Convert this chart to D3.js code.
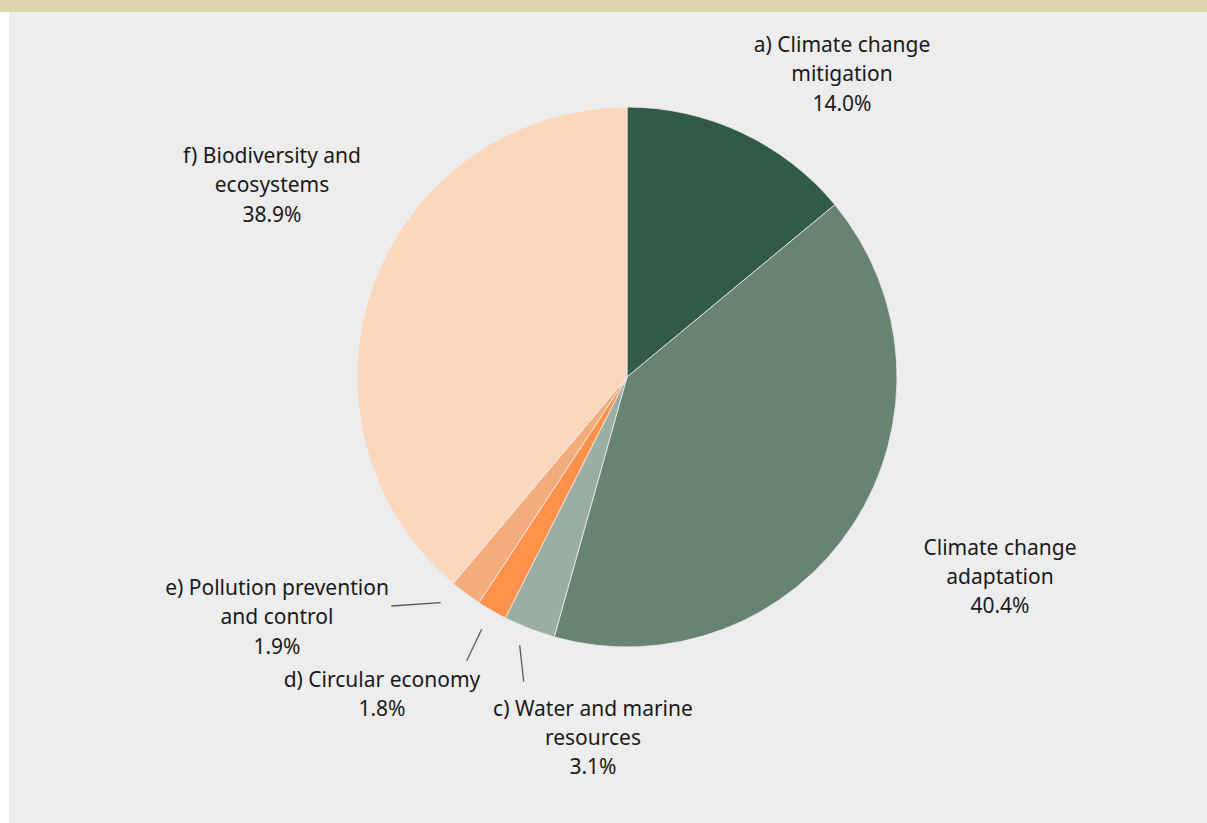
<!DOCTYPE html>
<html>
<head>
<meta charset="utf-8">
<script src="https://cdn.jsdelivr.net/npm/d3@7"></script>
<style>
  html, body { margin: 0; padding: 0; background: #ffffff; }
  svg { display: block; }
</style>
</head>
<body>
<svg id="chart" width="1207" height="823"></svg>
<script>
// Environmental objectives and their shares (%)
const categories = [
  "a) Climate change mitigation",
  "Climate change adaptation",
  "c) Water and marine resources",
  "d) Circular economy",
  "e) Pollution prevention and control",
  "f) Biodiversity and ecosystems"
];
const shares = [14.0, 40.4, 3.1, 1.8, 1.9, 38.9];
const valueLabels = ["14.0%", "40.4%", "3.1%", "1.8%", "1.9%", "38.9%"];
// Label text broken into lines
const labelLines = [
  ["a) Climate change", "mitigation"],
  ["Climate change", "adaptation"],
  ["c) Water and marine", "resources"],
  ["d) Circular economy"],
  ["e) Pollution prevention", "and control"],
  ["f) Biodiversity and", "ecosystems"]
];
const sliceColors = ["#315b47", "#678372", "#9aaea1", "#ff914b", "#f3ad7c", "#fbd7bd"];

// Label placement: centre x and first baseline y, plus optional leader line
const labelLayout = [
  { x: 842, y: 52 },
  { x: 1000, y: 554.5 },
  { x: 593, y: 715.5, leader: [[523.7, 681.7], [519.7, 645.3]] },
  { x: 382, y: 687, leader: [[466.7, 660.7], [481.7, 629.3]] },
  { x: 277, y: 595, leader: [[391.3, 606], [440.7, 602.7]] },
  { x: 272, y: 163 }
];

const W = 1207, H = 823;
const svg = d3.select("#chart");

// Header band and panel background
svg.append("rect").attr("x", 0).attr("y", 0).attr("width", W).attr("height", 12).attr("fill", "#dcd5ad");
svg.append("rect").attr("x", 9).attr("y", 12).attr("width", W - 9).attr("height", H - 12).attr("fill", "#ededed");

const cx = 627, cy = 377, radius = 270;

const pie = d3.pie().sort(null).value(d => d).startAngle(0).endAngle(2 * Math.PI);
const arc = d3.arc().innerRadius(0).outerRadius(radius);
const arcs = pie(shares);

const g = svg.append("g").attr("transform", `translate(${cx},${cy})`);
g.selectAll("path.slice")
  .data(arcs)
  .join("path")
  .attr("class", "slice")
  .attr("d", arc)
  .attr("fill", (d, i) => sliceColors[i])
  .attr("stroke", "#ededed")
  .attr("stroke-width", 0.8)
  .attr("stroke-linejoin", "round");

// Leader lines
labelLayout.forEach((l) => {
  if (!l.leader) return;
  svg.append("line")
    .attr("x1", l.leader[0][0]).attr("y1", l.leader[0][1])
    .attr("x2", l.leader[1][0]).attr("y2", l.leader[1][1])
    .attr("stroke", "#595959").attr("stroke-width", 1.3);
});

// Labels: category name lines followed by the percentage
const lineH = 29.4;
categories.forEach((c, i) => {
  const lay = labelLayout[i];
  const lines = labelLines[i].concat([valueLabels[i]]);
  const t = svg.append("text")
    .attr("text-anchor", "middle")
    .attr("font-family", "'Noto Sans', sans-serif")
    .attr("font-size", 21)
    .attr("fill", "#1a1a1a");
  lines.forEach((ln, j) => {
    t.append("tspan").attr("x", lay.x).attr("y", lay.y + j * lineH).text(ln);
  });
});
</script>
</body>
</html>
